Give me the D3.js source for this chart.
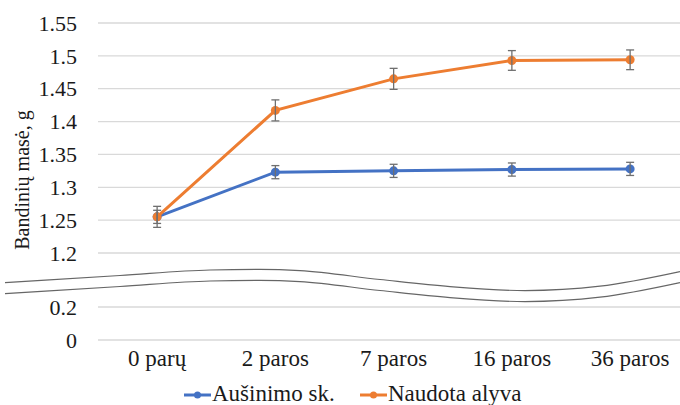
<!DOCTYPE html>
<html><head><meta charset="utf-8">
<script src="https://cdn.jsdelivr.net/npm/d3@7"></script>
<style>html,body{margin:0;padding:0;background:#fff;}svg{display:block;}</style>
</head><body>
<svg id="c" width="680" height="405"></svg>
<script>
const categories = ["0 parų", "2 paros", "7 paros", "16 paros", "36 paros"];
const coolant = [1.255, 1.323, 1.325, 1.327, 1.328];
const coolantErr = [0.010, 0.010, 0.010, 0.010, 0.010];
const oil = [1.255, 1.417, 1.465, 1.493, 1.494];
const oilErr = [0.016, 0.016, 0.016, 0.015, 0.015];
const upperTicks = [1.2, 1.25, 1.3, 1.35, 1.4, 1.45, 1.5, 1.55];
const lowerTicks = [0, 0.2];
const seriesNames = ["Aušinimo sk.", "Naudota alyva"];
const colors = ["#4472C4", "#ED7D31"];
const FONT = "Liberation Serif";

const svg = d3.select("#c");
const x = d3.scalePoint().domain(categories).range([98, 689.25]).padding(0.5);
const yU = d3.scaleLinear().domain([1.2, 1.55]).range([253, 23]);
const yL = d3.scaleLinear().domain([0, 0.2]).range([340, 307]);

// gridlines + tick labels
const grid = svg.append("g");
function drawTicks(ticks, scale) {
  ticks.forEach(t => {
    grid.append("line").attr("x1", 98).attr("x2", 680)
      .attr("y1", scale(t)).attr("y2", scale(t))
      .attr("stroke", "#d9d9d9").attr("stroke-width", 1.3);
    grid.append("text").attr("x", 77).attr("y", scale(t)).attr("dy", "0.35em")
      .attr("text-anchor", "end").attr("font-size", 22).style("font-family", FONT).attr("fill", "#1a1a1a")
      .text(String(t));
  });
}
drawTicks(upperTicks, yU);
drawTicks(lowerTicks, yL);

// axis break squiggle (decorative)
const wave = [[5,282.6],[120,275.5],[210,270],[260,269.4],[300,270.6],[380,279.5],[450,286.6],[525,290.6],[600,286.2],[680,271.6]];
const wl = d3.line().curve(d3.curveMonotoneX);
svg.append("path").attr("d", wl(wave.concat(wave.slice().reverse().map(p => [p[0], p[1] + 11]))))
  .attr("fill", "#fff").attr("stroke", "none");
[0, 11].forEach(off => {
  svg.append("path").attr("d", wl(wave.map(p => [p[0], p[1] + off])))
    .attr("fill", "none").attr("stroke", "#666").attr("stroke-width", 1.2);
});

// y axis title
svg.append("text").attr("transform", "translate(29,180) rotate(-90)")
  .attr("text-anchor", "middle").attr("font-size", 20).style("font-family", FONT).attr("fill", "#1a1a1a")
  .text("Bandinių masė, g");

// x labels
categories.forEach(c => {
  svg.append("text").attr("x", x(c)).attr("y", 366).attr("text-anchor", "middle")
    .attr("font-size", 23).style("font-family", FONT).attr("fill", "#1a1a1a").text(c);
});

// series
const data = [[coolant, coolantErr], [oil, oilErr]];
const line = d3.line().x((d, i) => x(categories[i])).y(d => yU(d));
data.forEach(([vals, errs], si) => {
  const g = svg.append("g");
  g.append("path").attr("d", line(vals)).attr("fill", "none")
    .attr("stroke", colors[si]).attr("stroke-width", 3);
  vals.forEach((v, i) => {
    const cx = x(categories[i]);
    g.append("circle").attr("cx", cx).attr("cy", yU(v)).attr("r", 4.5).attr("fill", colors[si]);
  });
});
// error bars drawn on top
data.forEach(([vals, errs]) => {
  const g = svg.append("g").attr("stroke", "#6f6f6f").attr("stroke-width", 1.3);
  vals.forEach((v, i) => {
    const cx = x(categories[i]);
    const y1 = yU(v + errs[i]), y2 = yU(v - errs[i]);
    g.append("line").attr("x1", cx).attr("x2", cx).attr("y1", y1).attr("y2", y2);
    g.append("line").attr("x1", cx - 4).attr("x2", cx + 4).attr("y1", y1).attr("y2", y1);
    g.append("line").attr("x1", cx - 4).attr("x2", cx + 4).attr("y1", y2).attr("y2", y2);
  });
});

// legend
const legX = [184, 360];
seriesNames.forEach((n, i) => {
  const g = svg.append("g");
  g.append("line").attr("x1", legX[i]).attr("x2", legX[i] + 27).attr("y1", 395).attr("y2", 395)
    .attr("stroke", colors[i]).attr("stroke-width", 3);
  g.append("circle").attr("cx", legX[i] + 13.5).attr("cy", 395).attr("r", 3.5).attr("fill", colors[i]);
  g.append("text").attr("x", legX[i] + 28).attr("y", 401).attr("font-size", 23).style("font-family", FONT).attr("fill", "#1a1a1a").text(n);
});
</script>
</body></html>
